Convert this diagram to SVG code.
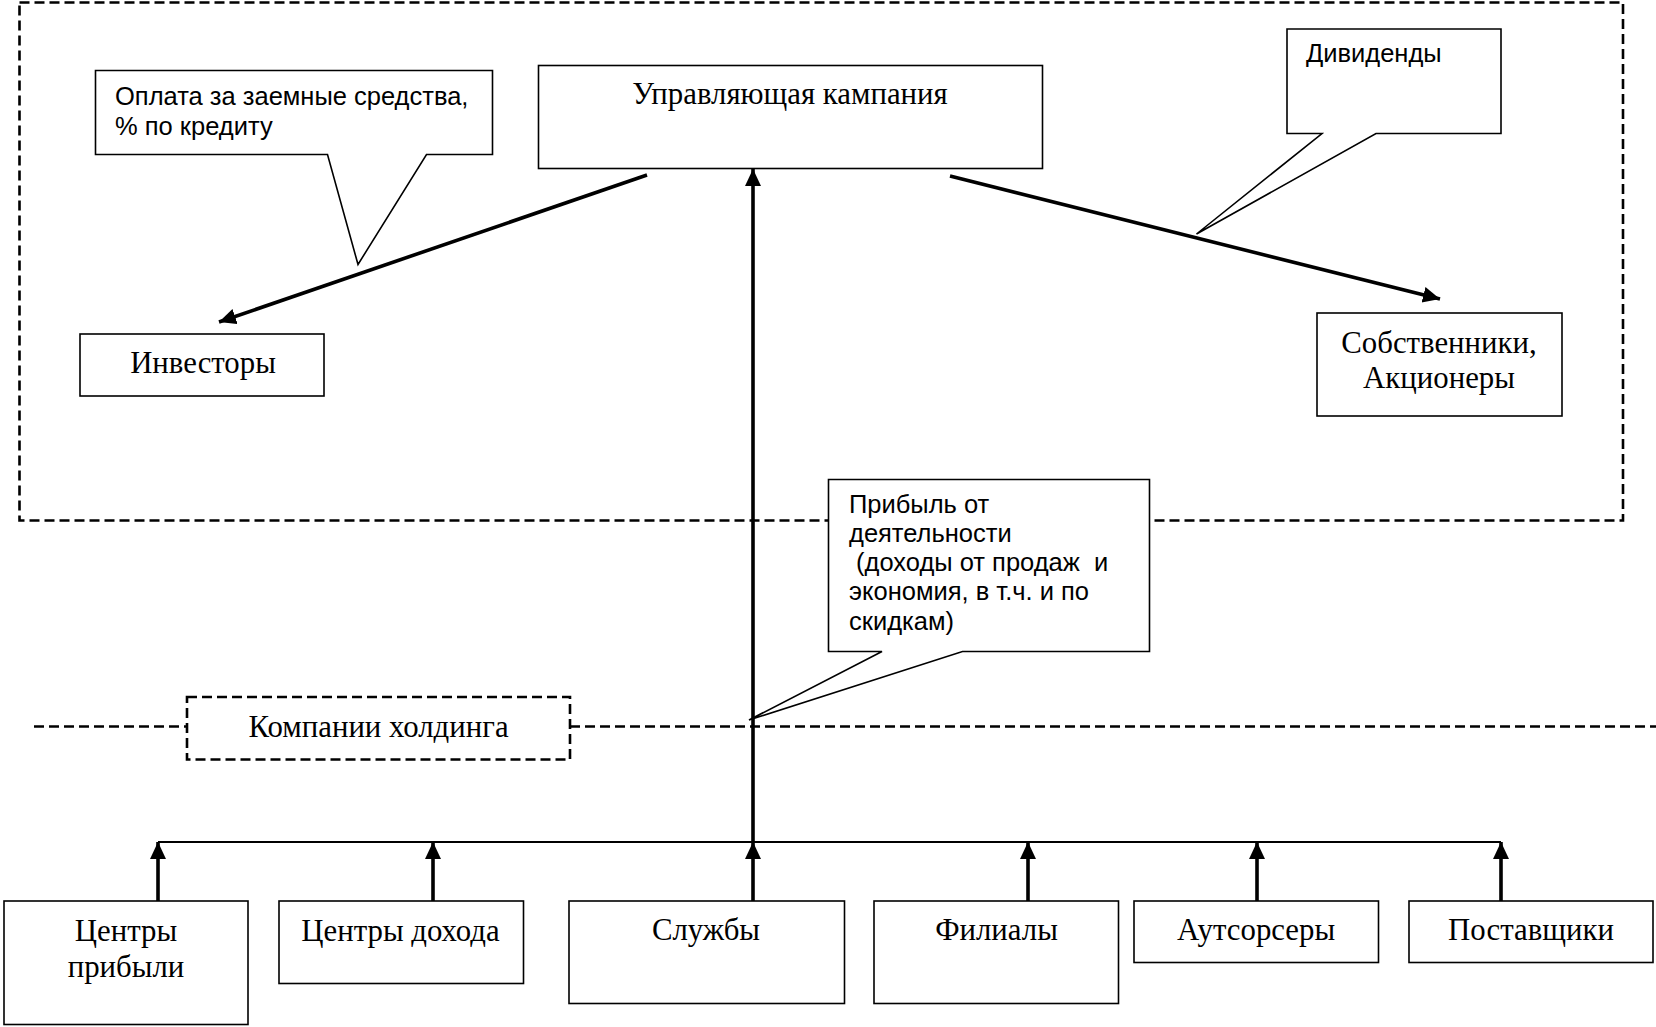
<svg xmlns="http://www.w3.org/2000/svg" width="1656" height="1027" viewBox="0 0 1656 1027">
<style>
.bg{fill:#fff}
.dash{fill:none;stroke:#000;stroke-width:2.6;stroke-dasharray:10 5}
.box{fill:#fff;stroke:#000;stroke-width:1.6}
.dbox{fill:#fff;stroke:#000;stroke-width:2.6;stroke-dasharray:10 5}
.call{fill:#fff;stroke:#000;stroke-width:1.6;stroke-linejoin:miter}
.serif{font-family:"Liberation Serif","Times New Roman",serif;font-size:30.8px;fill:#000;text-anchor:middle}
.sans{font-family:"Liberation Sans",Arial,sans-serif;font-size:25.5px;fill:#000}
.arr{fill:none;stroke:#000;stroke-width:3.6}
.bus{fill:none;stroke:#000;stroke-width:1.8}
</style>
<defs>
<marker id="ah" markerUnits="userSpaceOnUse" markerWidth="18" markerHeight="17" refX="17" refY="8" orient="auto" viewBox="0 0 18 17">
<path d="M0,0 L17,8 L0,16 Z" fill="#000"/>
</marker>
</defs>
<rect class="bg" x="0" y="0" width="1656" height="1027"/>
<g id="frames">
<rect class="dash" x="19.5" y="2.5" width="1603.5" height="518"/>
<line class="dash" x1="34" y1="726.5" x2="187" y2="726.5"/>
<line class="dash" x1="570" y1="726.5" x2="1656" y2="726.5"/>
</g>
<g id="nodes">
<g id="n-uk"><rect class="box" x="538.5" y="65.5" width="504" height="103"/><text class="serif" x="790" y="103.5">Управляющая кампания</text></g>
<g id="n-invest"><rect class="box" x="80" y="334" width="244" height="62"/><text class="serif" x="203" y="372.5">Инвесторы</text></g>
<g id="n-owners"><rect class="box" x="1317" y="313" width="245" height="103"/><text class="serif" x="1439" y="352.5">Собственники,</text><text class="serif" x="1439" y="387.5">Акционеры</text></g>
<g id="c-loan"><path class="call" d="M95.5,70.5 H492.5 V154.5 H426.5 L358,264.5 L327.5,154.5 H95.5 Z"/><text class="sans" x="115" y="105">Оплата за заемные средства,</text><text class="sans" x="115" y="135">% по кредиту</text></g>
<g id="c-div"><path class="call" d="M1287,29 H1501 V133.5 H1376 L1196.5,234 L1322,133.5 H1287 Z"/><text class="sans" x="1306" y="62">Дивиденды</text></g>
<g id="c-profit"><path class="call" d="M828.5,479.5 H1149.5 V651.5 H962.5 L749,720 L882,651.5 H828.5 Z"/>
<text class="sans" x="849" y="513">Прибыль от</text>
<text class="sans" x="849" y="542">деятельности</text>
<text class="sans" x="849" y="571" xml:space="preserve"> (доходы от продаж  и</text>
<text class="sans" x="849" y="600">экономия, в т.ч. и по</text>
<text class="sans" x="849" y="630">скидкам)</text></g>
<g id="n-holding"><rect class="dbox" x="187" y="697" width="383" height="62.5"/><text class="serif" x="378.5" y="736.5">Компании холдинга</text></g>
<g id="n-cp"><rect class="box" x="4" y="901" width="244" height="123.5"/><text class="serif" x="126" y="940.5">Центры</text><text class="serif" x="126" y="976.5">прибыли</text></g>
<g id="n-cd"><rect class="box" x="279" y="901" width="244.5" height="82.5"/><text class="serif" x="400.5" y="940.5">Центры дохода</text></g>
<g id="n-sl"><rect class="box" x="569" y="901" width="275.5" height="102.5"/><text class="serif" x="706" y="939.5">Службы</text></g>
<g id="n-fil"><rect class="box" x="874" y="901" width="244.5" height="102.5"/><text class="serif" x="996.5" y="939.5">Филиалы</text></g>
<g id="n-out"><rect class="box" x="1134" y="901" width="244.5" height="61.5"/><text class="serif" x="1256" y="939.5">Аутсорсеры</text></g>
<g id="n-sup"><rect class="box" x="1409" y="901" width="244" height="61.5"/><text class="serif" x="1531" y="939.5">Поставщики</text></g>
</g>
<g id="connectors">
<line class="bus" x1="158" y1="842" x2="1501" y2="842"/>
<line class="arr" x1="753" y1="842" x2="753" y2="169" marker-end="url(#ah)"/>
<line class="arr" x1="647" y1="175" x2="219" y2="322" marker-end="url(#ah)"/>
<line class="arr" x1="950" y1="176" x2="1440" y2="299" marker-end="url(#ah)"/>
<line class="arr" x1="158" y1="901" x2="158" y2="842" marker-end="url(#ah)"/>
<line class="arr" x1="433" y1="901" x2="433" y2="842" marker-end="url(#ah)"/>
<line class="arr" x1="753" y1="901" x2="753" y2="842" marker-end="url(#ah)"/>
<line class="arr" x1="1028" y1="901" x2="1028" y2="842" marker-end="url(#ah)"/>
<line class="arr" x1="1257" y1="901" x2="1257" y2="842" marker-end="url(#ah)"/>
<line class="arr" x1="1501" y1="901" x2="1501" y2="842" marker-end="url(#ah)"/>
</g>
</svg>
